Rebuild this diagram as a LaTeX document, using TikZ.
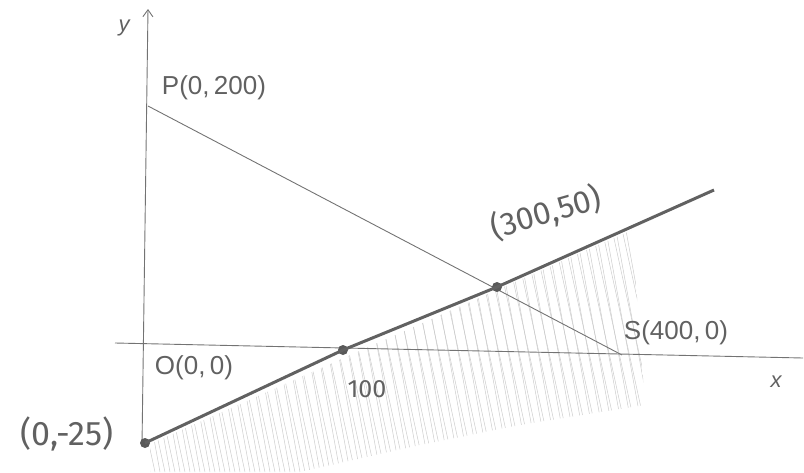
\documentclass[tikz,border=0pt]{standalone}
\usepackage{fontspec}
\setmainfont{Liberation Sans}
\newfontfamily\handfont{Fira Sans}
\usetikzlibrary{arrows.meta}
\begin{document}
\begin{tikzpicture}[x=1pt,y=-1pt,
  thinline/.style={draw=black!55,line width=0.9pt},
  thickline/.style={draw=black!62,line width=3pt},
  hatchline/.style={draw=black!20,line width=0.5pt},
  dotpt/.style={circle,fill=black!65,inner sep=0pt,minimum size=10pt},
  printlab/.style={text=black!62,font=\fontsize{26}{26}\selectfont,inner sep=0pt},
  handlab/.style={text=black!62,font=\handfont\fontsize{32}{32}\selectfont,inner sep=0pt},
  axislab/.style={text=black!62,font=\itshape\fontsize{22}{22}\selectfont,inner sep=0pt}]
\useasboundingbox (0,0) rectangle (804,472);
% hatching
\begin{scope}
  \clip (150,444) -- (632,230) -- (645,405) -- (520,425) -- (420,445) -- (300,472) -- (150,472) -- cycle;
  \foreach \i in {0,...,60} {
    \draw[hatchline] ({90+10*\i},{220}) -- ({90+10*\i+55},{472});
    \draw[hatchline] ({95+10*\i},{225}) -- ({95+10*\i+45},{472});
  }
\end{scope}
% coordinates
\coordinate (ybot) at (142,445);
\coordinate (ytop) at (148,9);
\coordinate (xl) at (115,343);
\coordinate (xr) at (803,358);
\coordinate (P) at (148,106);
\coordinate (S) at (622,355);
\coordinate (Tend) at (714,190);
% axes
\draw[thinline,-{Straight Barb[length=7pt,width=10pt]}] (ybot) -- (ytop);
\draw[thinline] (xl) -- (xr);
% PS line
\draw[thinline] (P) -- (S);
% dots
\node[dotpt] (A) at (145,443) {};
\node[dotpt] (B) at (343,350) {};
\node[dotpt] (C) at (497,287) {};
% thick line
\draw[thickline] (A.center) -- (B.center) -- (C.center) -- (Tend);
% labels
\node[axislab] (ylab) at (124,28) {y};
\node[axislab] (xlab) at (776,382) {x};
\node[printlab] (Plab) at (214,88) {P(0,\,200)};
\node[printlab] (Olab) at (194,368) {O(0,\,0)};
\node[printlab] (Slab) at (676,333) {S(400,\,0)};
\node[handlab,font=\handfont\fontsize{25}{25}\selectfont] (lab100) at (367,389) {100};
\node[handlab,font=\handfont\fontsize{34}{34}\selectfont] (labA) at (67,434) {(0,-25)};
\node[handlab,rotate=16] (labC) at (546,213) {(300,50)};
\end{tikzpicture}
\end{document}
